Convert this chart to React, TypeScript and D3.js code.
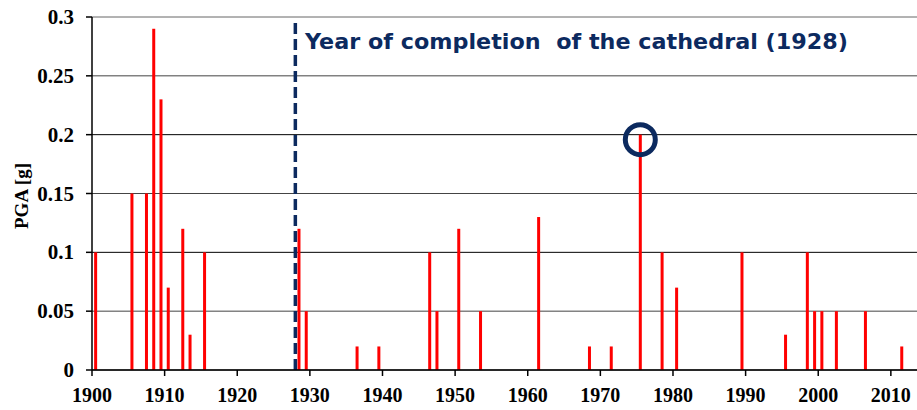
import React from "react";
import * as d3 from "d3";

const years = [1900, 1905, 1907, 1908, 1909, 1910, 1912, 1913, 1915, 1928, 1929, 1936, 1939, 1946, 1947, 1950, 1953, 1961, 1968, 1971, 1975, 1978, 1980, 1989, 1995, 1998, 1999, 2000, 2002, 2006, 2011];
const pga = [0.1, 0.15, 0.15, 0.29, 0.23, 0.07, 0.12, 0.03, 0.1, 0.12, 0.05, 0.02, 0.02, 0.1, 0.05, 0.12, 0.05, 0.13, 0.02, 0.02, 0.2, 0.1, 0.07, 0.1, 0.03, 0.1, 0.05, 0.05, 0.05, 0.05, 0.02];
const xTicks = [1900, 1910, 1920, 1930, 1940, 1950, 1960, 1970, 1980, 1990, 2000, 2010];
const yTicks = [0, 0.05, 0.1, 0.15, 0.2, 0.25, 0.3];
const completionYear = 1928;
const highlightYear = 1975;
const annotation = "Year of completion  of the cathedral (1928)";
const yLabel = "PGA [g]";

const W = 917;
const H = 410;
const left = 92;
const right = 917;
const top = 17;
const bottom = 370;

export default function App() {
  const x = d3.scaleLinear().domain([1900, 2013.6]).range([left, right]);
  const y = d3.scaleLinear().domain([0, 0.3]).range([bottom, top]);
  const navy = "#0c2a5f";
  const serif = "'Liberation Serif', 'Times New Roman', serif";
  const hi = years.indexOf(highlightYear);
  return (
    <svg width={W} height={H} style={{ position: "absolute", left: 0, top: 0, background: "#fff" }}>
      {yTicks.map((t) => (
        <line key={"g" + t} x1={left} x2={right} y1={y(t)} y2={y(t)} stroke={t === 0.3 ? "#666" : t === 0.2 || t === 0.1 ? "#000" : "#444"} strokeWidth={1} />
      ))}
      {years.map((yr, i) => (
        <rect key={yr} x={x(yr + 0.5) - 1.5} width={3} y={y(pga[i])} height={bottom - y(pga[i])} fill="#ff0000" />
      ))}
      <line x1={x(completionYear)} x2={x(completionYear)} y1={top + 6} y2={bottom} stroke={navy} strokeWidth={3.5} strokeDasharray="11,5" />
      <text x={305} y={49} fontFamily="'DejaVu Sans', Verdana, sans-serif" fontWeight="bold" fontSize={22} fill={navy} textLength={543} lengthAdjust="spacingAndGlyphs" style={{ whiteSpace: "pre" }}>
        {annotation}
      </text>
      <circle cx={x(highlightYear + 0.5)} cy={y(pga[hi]) + 5} r={15} fill="none" stroke={navy} strokeWidth={5} />
      <line x1={left} x2={left} y1={top} y2={bottom} stroke="#000" strokeWidth={1.5} />
      <line x1={left} x2={right} y1={bottom} y2={bottom} stroke="#000" strokeWidth={1.5} />
      {yTicks.map((t) => (
        <g key={"y" + t}>
          <line x1={left - 6} x2={left} y1={y(t)} y2={y(t)} stroke="#000" strokeWidth={1.5} />
          <text x={left - 18} y={y(t) + 7} textAnchor="end" fontFamily={serif} fontWeight="bold" fontSize={21} fill="#000">
            {String(t)}
          </text>
        </g>
      ))}
      {xTicks.map((t) => (
        <g key={"x" + t}>
          <line x1={x(t)} x2={x(t)} y1={bottom} y2={bottom + 6} stroke="#000" strokeWidth={1.5} />
          <text x={x(t)} y={402} textAnchor="middle" fontFamily={serif} fontWeight="bold" fontSize={20} fill="#000">
            {String(t)}
          </text>
        </g>
      ))}
      <text transform={`translate(28,196) rotate(-90)`} textAnchor="middle" fontFamily={serif} fontWeight="bold" fontSize={19} fill="#000">
        {yLabel}
      </text>
    </svg>
  );
}
